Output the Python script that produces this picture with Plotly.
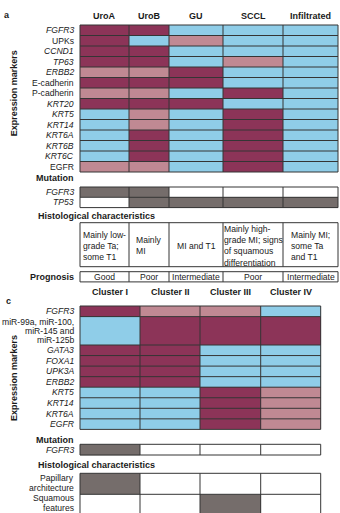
import plotly.graph_objects as go

# ---------------- data ----------------
# expression codes: "H" high, "M" intermediate, "L" low
a_groups = ["UroA", "UroB", "GU", "SCCL", "Infiltrated"]
a_markers = ["FGFR3", "UPKs", "CCND1", "TP63", "ERBB2", "E-cadherin", "P-cadherin",
             "KRT20", "KRT5", "KRT14", "KRT6A", "KRT6B", "KRT6C", "EGFR"]
a_italic = [True, False, True, True, True, False, False,
            True, True, True, True, True, True, False]
a_expr = [
    "HHLLL",
    "HLMLL",
    "HHLLL",
    "HHLML",
    "MMHLL",
    "HHHLL",
    "MMLHL",
    "HHHLL",
    "LMLHL",
    "LMLHL",
    "LHLHL",
    "LHLHL",
    "LHLHL",
    "MMLHL",
]
a_mut_genes = ["FGFR3", "TP53"]
a_mut = [
    [1, 1, 0, 0, 0],
    [0, 1, 1, 1, 1],
]
a_histology = [
    "Mainly low-<br>grade Ta;<br>some T1",
    "Mainly<br>MI",
    "MI and T1",
    "Mainly high-<br>grade MI; signs<br>of squamous<br>differentiation",
    "Mainly MI;<br>some Ta<br>and T1",
]
a_prognosis = ["Good", "Poor", "Intermediate", "Poor", "Intermediate"]

c_groups = ["Cluster I", "Cluster II", "Cluster III", "Cluster IV"]
c_markers = ["FGFR3", "miR-99a, miR-100,<br>miR-145 and<br>miR-125b", "GATA3", "FOXA1",
             "UPK3A", "ERBB2", "KRT5", "KRT14", "KRT6A", "EGFR"]
c_italic = [True, False, True, True, True, True, True, True, True, True]
c_expr = [
    "HMML",
    "LHHH",
    "HHLL",
    "HHLL",
    "HHLL",
    "HHLL",
    "LLHM",
    "LLHM",
    "LLHM",
    "LLHM",
]
c_mut_genes = ["FGFR3"]
c_mut = [[1, 0, 0, 0]]
c_hist_rows = ["Papillary<br>architecture", "Squamous<br>features"]
c_hist = [
    [1, 0, 0, 0],
    [0, 0, 1, 0],
]

# ---------------- styling ----------------
W, H = 340, 513
FONT = "Liberation Sans Narrow, Arial Narrow, Liberation Sans, Arial, sans-serif"
COLORS = ["#ffffff", "#756d6b", "#8fcde8", "#c08993", "#8c3458"]  # none, mutated, L, M, H
CODE = {"H": 4, "M": 3, "L": 2}
LINE = "#353535"

colorscale = []
for k, col in enumerate(COLORS):
    colorscale += [[k / len(COLORS), col], [(k + 1) / len(COLORS), col]]

fig = go.Figure()


def edges(start, sizes):
    out = [start]
    for s in sizes:
        out.append(out[-1] + s)
    return out


def add_block(xe, ye, z=None):
    """Filled cells (optional) plus the grid of cell borders."""
    if z is not None:
        fig.add_trace(go.Heatmap(
            x=xe, y=ye, z=z, colorscale=colorscale, zmin=-0.5, zmax=len(COLORS) - 0.5,
            showscale=False, hoverinfo="skip"))
    gx, gy = [], []
    for x in xe:
        gx += [x, x, None]
        gy += [ye[0], ye[-1], None]
    for y in ye:
        gx += [xe[0], xe[-1], None]
        gy += [y, y, None]
    fig.add_trace(go.Scatter(x=gx, y=gy, mode="lines", line=dict(color=LINE, width=1),
                             hoverinfo="skip", showlegend=False))


def label(x, y, text, size=8.6, bold=False, italic=False, anchor="right", **kw):
    if italic:
        text = "<i>" + text + "</i>"
    if bold:
        text = "<b>" + text + "</b>"
    fig.add_annotation(x=x, y=y, text=text, showarrow=False, xanchor=anchor, yanchor="middle",
                       font=dict(family=FONT, size=size, color="#1a1a1a"), **kw)


def stacked_label(x, yc, text, step, italic=False, **kw):
    """Multi-line label drawn line by line with a tight line pitch."""
    lines = text.split("<br>")
    y0 = yc - step * (len(lines) - 1) / 2
    for i, ln in enumerate(lines):
        label(x, y0 + i * step, ln, italic=italic, **kw)


def centers(e):
    return [(e[i] + e[i + 1]) / 2 for i in range(len(e) - 1)]


LABEL_X = 76

# ---------------- panel a ----------------
ax_e = edges(80, [49, 40, 54, 60, 55])
a_rows = edges(25, [10.5] * len(a_markers))
add_block(ax_e, a_rows, [[CODE[ch] for ch in row] for row in a_expr])
label(7, 15, "a", size=9, bold=True, anchor="center")
for xc, g in zip(centers(ax_e), a_groups):
    label(xc, 15.5, g, size=9, bold=True, anchor="center")
for yc, m, it in zip(centers(a_rows), a_markers, a_italic):
    label(LABEL_X, yc, m, italic=it)
label(14, centers(a_rows)[6], "Expression markers", size=9, bold=True, anchor="center",
      textangle=-90)

a_mut_rows = edges(187, [10.3, 10.3])
label(LABEL_X, 178, "Mutation", size=9, bold=True)
add_block(ax_e, a_mut_rows, a_mut)
for yc, g in zip(centers(a_mut_rows), a_mut_genes):
    label(LABEL_X, yc, g, italic=True)

label(36, 215.5, "Histological characteristics", size=9, bold=True, anchor="left")
a_hist_rows = edges(222.7, [44])
add_block(ax_e, a_hist_rows)
for xc, t in zip(centers(ax_e), a_histology):
    label(xc, centers(a_hist_rows)[0] + 1, t, size=8.6, anchor="center", align="left")

a_prog_rows = edges(271.7, [10.2])
add_block(ax_e, a_prog_rows)
label(LABEL_X, centers(a_prog_rows)[0], "Prognosis", size=9, bold=True)
for xc, t in zip(centers(ax_e), a_prognosis):
    label(xc, centers(a_prog_rows)[0], t, anchor="center")

# ---------------- panel c ----------------
cx_e = edges(80, [60, 60, 60.7, 60])
c_rows = edges(306, [10.6, 28.4] + [10.55] * 8)
add_block(cx_e, c_rows, [[CODE[ch] for ch in row] for row in c_expr])
label(8, 301, "c", size=9, bold=True, anchor="center")
for xc, g in zip(centers(cx_e), c_groups):
    label(xc, 291.5, g, size=9, bold=True, anchor="center")
for yc, m, it in zip(centers(c_rows), c_markers, c_italic):
    stacked_label(LABEL_X, yc, m, 9.2, italic=it)
label(14, 378, "Expression markers", size=9, bold=True, anchor="center", textangle=-90)

c_mut_rows = edges(444.3, [10.7])
label(LABEL_X, 439.5, "Mutation", size=9, bold=True)
add_block(cx_e, c_mut_rows, c_mut)
for yc, g in zip(centers(c_mut_rows), c_mut_genes):
    label(LABEL_X, yc, g, italic=True)

label(36, 464.5, "Histological characteristics", size=9, bold=True, anchor="left")
c_hist_y = edges(473.3, [21, 22])
add_block(cx_e, c_hist_y, c_hist)
# the lower row runs off the page, so its label is kept inside the visible part
hist_label_y = [centers(c_hist_y)[0] - 0.5, 503.3]
for yc, t in zip(hist_label_y, c_hist_rows):
    stacked_label(LABEL_X, yc, t, 9.8)

fig.update_xaxes(range=[0, W], visible=False, fixedrange=True)
fig.update_yaxes(range=[H, 0], visible=False, fixedrange=True)
fig.update_layout(width=W, height=H, margin=dict(l=0, r=0, t=0, b=0),
                  plot_bgcolor="white", paper_bgcolor="white", showlegend=False)
fig.write_html("out.html")
